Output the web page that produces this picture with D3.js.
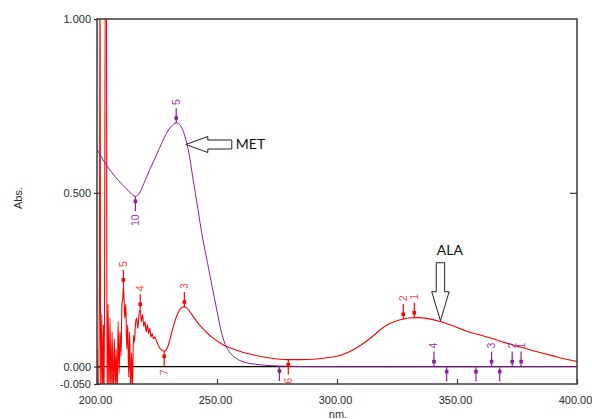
<!DOCTYPE html>
<html>
<head>
<meta charset="utf-8">
<script src="https://cdn.jsdelivr.net/npm/d3@7"></script>
<style>
body { margin: 0; background: #fff; }
svg { display: block; font-family: Arial, "Liberation Sans", sans-serif; }
.tick text { font-size: 11px; fill: #2a2a2a; }
</style>
</head>
<body>
<script>
// ALA spectrum (red) - noisy below 216 nm
var alaNm  = [200, 200.5, 201, 201.25, 201.5, 202, 202.3, 202.7, 203, 203.5, 203.9, 204.2, 204.6, 205, 205.4, 205.8,
              206.3, 206.7, 207.2, 207.6, 208, 208.4, 208.8, 209.2, 209.6, 210, 210.4, 210.8, 211, 211.3, 211.6, 212,
              212.4, 212.8, 213.2, 213.6, 214, 214.4, 214.8, 215.2, 215.6, 216, 216.5, 217, 217.5, 218, 218.5, 219,
              219.5, 220, 220.5, 221, 221.5, 222, 222.5, 223, 223.5, 224, 225, 226, 227, 228, 229, 230, 231, 232,
              233, 234, 235, 236, 237, 238, 239, 240, 242, 244, 246, 248, 250, 252, 254, 257, 260, 265, 270, 275,
              280, 285, 290, 295, 300, 305, 310, 315, 318, 322, 326, 330, 334, 338, 343, 348, 354, 360, 365, 370,
              375, 380, 385, 390, 395, 400];
var alaAbs = [0.05, -0.1, 0.2, 1.2, -0.1, 0.15, -0.1, 0.12, -0.1, 1.2, 1.2, -0.1, 0.18, -0.1, 0.14, -0.08,
              0.1, -0.1, 0.08, -0.06, 0.05, -0.1, 0.13, -0.02, 0.1, 0.03, 0.18, 0.2, 0.235, 0.19, 0.14, 0.18,
              0.05, 0.12, -0.03, 0.1, -0.08, 0.04, -0.06, 0.09, 0.07, 0.12, 0.14, 0.11, 0.15, 0.165, 0.13, 0.15,
              0.115, 0.13, 0.1, 0.12, 0.095, 0.11, 0.085, 0.095, 0.08, 0.085, 0.07, 0.055, 0.047, 0.044, 0.05, 0.068, 0.095, 0.12,
              0.142, 0.158, 0.168, 0.172, 0.171, 0.165, 0.155, 0.145, 0.126, 0.11, 0.096, 0.084, 0.074, 0.065, 0.058, 0.05, 0.043, 0.034, 0.027, 0.022,
              0.02, 0.02, 0.021, 0.025, 0.03, 0.042, 0.062, 0.088, 0.106, 0.124, 0.134, 0.14, 0.141, 0.138, 0.13, 0.118, 0.102, 0.09, 0.08, 0.069,
              0.059, 0.049, 0.04, 0.031, 0.022, 0.015];

// MET spectrum (purple)
var metNm  = [200, 203, 206, 209, 212, 214, 215, 216, 217, 218, 220, 222, 224, 226, 228, 230, 232, 233, 234, 235, 236, 238, 240,
              242, 244, 246, 248, 250, 252, 254, 256, 258, 260, 263, 266, 270, 275, 280, 290, 400];
var metAbs = [0.625, 0.59, 0.56, 0.535, 0.513, 0.5, 0.493, 0.49, 0.493, 0.503, 0.535, 0.567, 0.597, 0.628, 0.658, 0.683, 0.698, 0.701, 0.699, 0.691, 0.676, 0.625, 0.54,
              0.455, 0.37, 0.3, 0.23, 0.16, 0.095, 0.055, 0.035, 0.024, 0.016, 0.01, 0.007, 0.004, 0.002, 0.001, 0, 0];

// peak pick markers: side -1 = above the curve, 1 = below
var alaMarkNm   = [211, 218, 236.4, 228, 279.7, 327.6, 332.2];
var alaMarkLab  = ["5", "4", "3", "7", "6", "2", "1"];
var alaMarkSide = [-1, -1, -1, 1, 1, -1, -1];
var metMarkNm   = [233, 216, 340.4, 364.4, 373, 376.7, 345.7, 357.9, 367.8, 276];
var metMarkLab  = ["5", "10", "4", "3", "2", "1", "", "", "", ""];
var metMarkSide = [-1, 1, -1, -1, -1, -1, 1, 1, 1, 1];

var xTicks = [200, 250, 300, 350, 400];
var yTicks = [1, 0.5, 0, -0.05];

var margin = {top: 19, right: 15, bottom: 35, left: 97},
  width = 592 - margin.left - margin.right,
  height = 419 - margin.top - margin.bottom;

var red = "#ff0000", purple = "#8e1f9c";

var svg = d3.select("body").append("svg")
    .attr("width", 592)
    .attr("height", 419);

var g = svg.append("g")
    .attr("transform", "translate(" + margin.left + "," + margin.top + ")");

var x = d3.scaleLinear().domain([200, 400]).range([0, width]);
var y = d3.scaleLinear().domain([-0.05, 1]).range([height, 0]);

g.append("clipPath").attr("id", "plotclip")
  .append("rect").attr("width", width).attr("height", height);
g.append("clipPath").attr("id", "markclip")
  .append("rect").attr("y", -20).attr("width", width).attr("height", height + 22);

// axes
var xAxis = g.append("g")
    .attr("transform", "translate(0," + height + ")")
    .call(d3.axisBottom(x).tickValues(xTicks).tickSize(-5).tickPadding(12)
      .tickFormat(function(d) { return d.toFixed(2); }));
xAxis.selectAll("text").attr("dx", -2);

var yAxis = g.append("g")
    .call(d3.axisLeft(y).tickValues(yTicks).tickSize(3).tickPadding(3)
      .tickFormat(function(d) { return d.toFixed(3); }));
yAxis.selectAll("line").attr("x1", 3);

g.append("g")
    .attr("transform", "translate(" + width + ",0)")
    .call(d3.axisRight(y).tickValues([0.5]).tickSize(-7).tickFormat(""));

g.selectAll(".domain").remove();
g.selectAll(".tick line").attr("stroke", "#333").attr("stroke-width", 1.2);

// zero line
g.append("line")
    .attr("x1", 0).attr("x2", width)
    .attr("y1", y(0)).attr("y2", y(0))
    .attr("stroke", "#000").attr("stroke-width", 1.2);

var curves = g.append("g").attr("clip-path", "url(#plotclip)");
curves.append("path")
    .attr("d", d3.line().curve(d3.curveMonotoneX)(alaNm.map(function(d, i) { return [x(d), y(alaAbs[i])]; })))
    .attr("fill", "none").attr("stroke", red).attr("stroke-width", 1.1);
curves.append("path")
    .attr("d", d3.line().curve(d3.curveCatmullRom.alpha(0.5))(metNm.map(function(d, i) { return [x(d), y(metAbs[i])]; })))
    .attr("fill", "none").attr("stroke", purple).attr("stroke-width", 1);

// markers
function drawMarks(nms, labs, sides, dataNm, dataAbs, col, textCol) {
  var valAt = d3.scaleLinear().domain(dataNm).range(dataAbs);
  var mg = g.append("g").attr("clip-path", "url(#markclip)");
  nms.forEach(function(n, i) {
    var px = x(n), py = y(valAt(n)), s = sides[i];
    mg.append("line")
      .attr("x1", px).attr("x2", px)
      .attr("y1", py).attr("y2", py + s * 15)
      .attr("stroke", col).attr("stroke-width", 1.2);
    mg.append("rect")
      .attr("x", px - 1.8).attr("y", py + s * 5 - 1.8)
      .attr("width", 3.6).attr("height", 3.6)
      .attr("fill", col);
    mg.append("text")
      .attr("transform", "translate(" + (px + 3.5) + "," + (py + s * 18) + ") rotate(-90)")
      .attr("text-anchor", s < 0 ? "start" : "end")
      .attr("font-size", "10.5px")
      .attr("fill", textCol)
      .text(labs[i]);
  });
}
drawMarks(alaMarkNm, alaMarkLab, alaMarkSide, alaNm, alaAbs, red, "#ff4a4a");
drawMarks(metMarkNm, metMarkLab, metMarkSide, metNm, metAbs, purple, "#9c3aa6");

// frame
g.append("rect")
    .attr("width", width).attr("height", height)
    .attr("fill", "none").attr("stroke", "#3a3a3a").attr("stroke-width", 1.5);

// annotation arrows
var metTip = [x(237), y(0.639)];
g.append("polygon")
    .attr("points", [[0,0],[22,-8],[22,-4.5],[46,-4.5],[46,4.5],[22,4.5],[22,8]]
      .map(function(p) { return (metTip[0] + p[0]) + "," + (metTip[1] + p[1]); }).join(" "))
    .attr("fill", "#fff").attr("stroke", "#222").attr("stroke-width", 1);
g.append("text")
    .attr("x", metTip[0] + 50).attr("y", metTip[1] + 4.5)
    .attr("font-family", "Lato, sans-serif").attr("font-size", "14px").attr("fill", "#111")
    .text("MET");

var alaTip = [x(343.1), y(0.132)];
g.append("polygon")
    .attr("points", [[0,0],[-8.7,-29],[-4.2,-29],[-4.2,-58],[4.2,-58],[4.2,-29],[8.7,-29]]
      .map(function(p) { return (alaTip[0] + p[0]) + "," + (alaTip[1] + p[1]); }).join(" "))
    .attr("fill", "#fff").attr("stroke", "#222").attr("stroke-width", 1);
g.append("text")
    .attr("x", alaTip[0] + 9.5).attr("y", alaTip[1] - 66)
    .attr("text-anchor", "middle")
    .attr("font-family", "Lato, sans-serif").attr("font-size", "14px").attr("fill", "#111")
    .text("ALA");

// axis titles
svg.append("text")
    .attr("transform", "translate(22,198) rotate(-90)")
    .attr("text-anchor", "middle").attr("font-size", "11px").attr("fill", "#333")
    .text("Abs.");
svg.append("text")
    .attr("x", margin.left + x(300) + 1).attr("y", 418)
    .attr("text-anchor", "middle").attr("font-size", "11px").attr("fill", "#333")
    .text("nm.");
</script>
</body>
</html>
